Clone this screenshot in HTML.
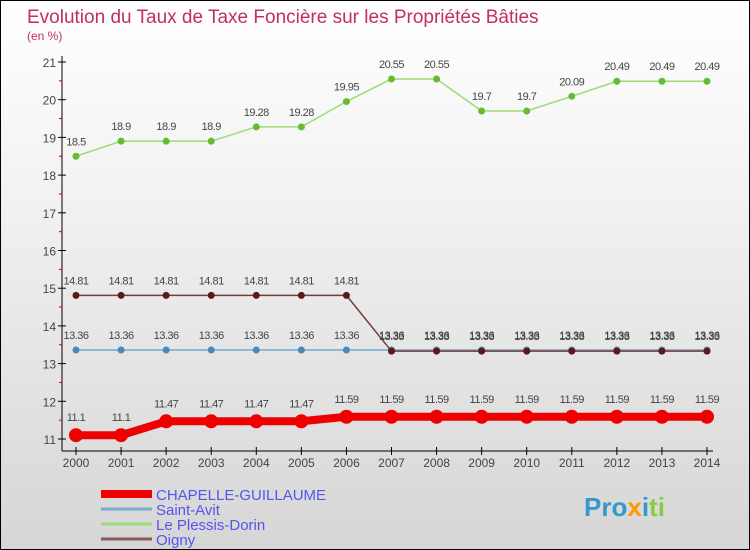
<!DOCTYPE html>
<html><head><meta charset="utf-8"><style>
body{margin:0}
#c{width:750px;height:550px;position:relative;background:linear-gradient(#fff,#f4f4f4 30%,#d6d6d6);border:1px solid #000;box-sizing:border-box;overflow:hidden;font-family:"Liberation Sans",sans-serif}
</style></head><body>
<div id="c">
<svg id="s" width="750" height="550" style="position:absolute;left:0;top:0">
<text x="26" y="22" font-size="19" fill="#c0305a">Evolution du Taux de Taxe Foncière sur les Propriétés Bâties</text>
<text x="26" y="39" font-size="12" fill="#c0305a">(en %)</text>
<g id="g"></g>
</svg>
</div>
<script>
const years=[2000,2001,2002,2003,2004,2005,2006,2007,2008,2009,2010,2011,2012,2013,2014];
const chapelle=[11.1,11.1,11.47,11.47,11.47,11.47,11.59,11.59,11.59,11.59,11.59,11.59,11.59,11.59,11.59];
const saintAvit=[13.36,13.36,13.36,13.36,13.36,13.36,13.36,13.36,13.36,13.36,13.36,13.36,13.36,13.36,13.36];
const plessis=[18.5,18.9,18.9,18.9,19.28,19.28,19.95,20.55,20.55,19.7,19.7,20.09,20.49,20.49,20.49];
const oigny=[14.81,14.81,14.81,14.81,14.81,14.81,14.81,13.33,13.33,13.33,13.33,13.33,13.33,13.33,13.33];
const yTicks=[11,12,13,14,15,16,17,18,19,20,21];
const names=["CHAPELLE-GUILLAUME","Saint-Avit","Le Plessis-Dorin","Oigny"];
const NS="http://www.w3.org/2000/svg";
const g=document.getElementById('g');
const X=i=>75+i*(706-75)/(years.length-1);
const Y=v=>438-(v-11)*(438-61)/10;
function el(t,a,txt){const e=document.createElementNS(NS,t);for(const k in a)e.setAttribute(k,a[k]);if(txt!==undefined)e.textContent=txt;g.appendChild(e);return e;}
let ax=el('line',{x1:61,y1:55,x2:61,y2:450,stroke:'#000'});


ax=el('line',{x1:61,y1:450,x2:712,y2:450,stroke:'#000'});


yTicks.forEach(v=>{
 el('line',{x1:57,y1:Y(v),x2:65,y2:Y(v),stroke:'#000'});
 if(v<21)el('line',{x1:58,y1:Y(v+0.5),x2:61,y2:Y(v+0.5),stroke:'#c00'});
 const t=el('text',{x:55,y:Y(v)+5,'font-size':12,fill:'#444','text-anchor':'end'},v);
 
 
});
years.forEach((yr,i)=>{
 el('line',{x1:X(i),y1:446,x2:X(i),y2:454,stroke:'#000'});
 const t=el('text',{x:X(i),y:466,'font-size':12,fill:'#444','text-anchor':'middle'},yr);
 
 
});
function series(data,color,w,r,ptColor,name,fmt){
 const p=el('polyline',{points:data.map((v,i)=>X(i)+','+Y(v)).join(' '),fill:'none',stroke:color,'stroke-width':w,'stroke-linejoin':'round'});
 
 
 data.forEach((v,i)=>{
  const c=el('circle',{cx:X(i),cy:Y(v),r:r,fill:ptColor});
  
  
  const t=el('text',{x:X(i),y:Y(v)-11-(r>5?3:0),'font-size':11,fill:'#444','text-anchor':'middle','letter-spacing':'-0.5'},v);
  
  
 });
}
series(plessis,'#99dd77',1.5,3.5,'#66bb33','plessis');
series(saintAvit,'#6fa8d0',1.5,3.5,'#4a8ab8','saint-avit');
series(oigny,'#7a3a3a',1.5,3.5,'#5a1a1a','oigny');
series(chapelle,'#ee0000',8,7,'#ee0000','chapelle');
const lc=['#ee0000','#7aaccc','#99dd77','#8a5a5a'],lw=[8,3,3,3];
names.forEach((n,i)=>{
 const y=493+i*15;
 const l=el('line',{x1:100,y1:y,x2:151,y2:y,stroke:lc[i],'stroke-width':lw[i]});
 
 
 const t=el('text',{x:155,y:y+6,'font-size':15,fill:'#5555ee'},n);
 
 
});
const b=el('text',{x:583,y:515,'font-size':26,'font-weight':'bold',fill:'#3399cc'},'');
b.innerHTML='<tspan fill="#3399cc">Pro</tspan><tspan fill="#ff9900">x</tspan><tspan fill="#3399cc">i</tspan><tspan fill="#88cc44">ti</tspan>';


</script>
</body></html>
